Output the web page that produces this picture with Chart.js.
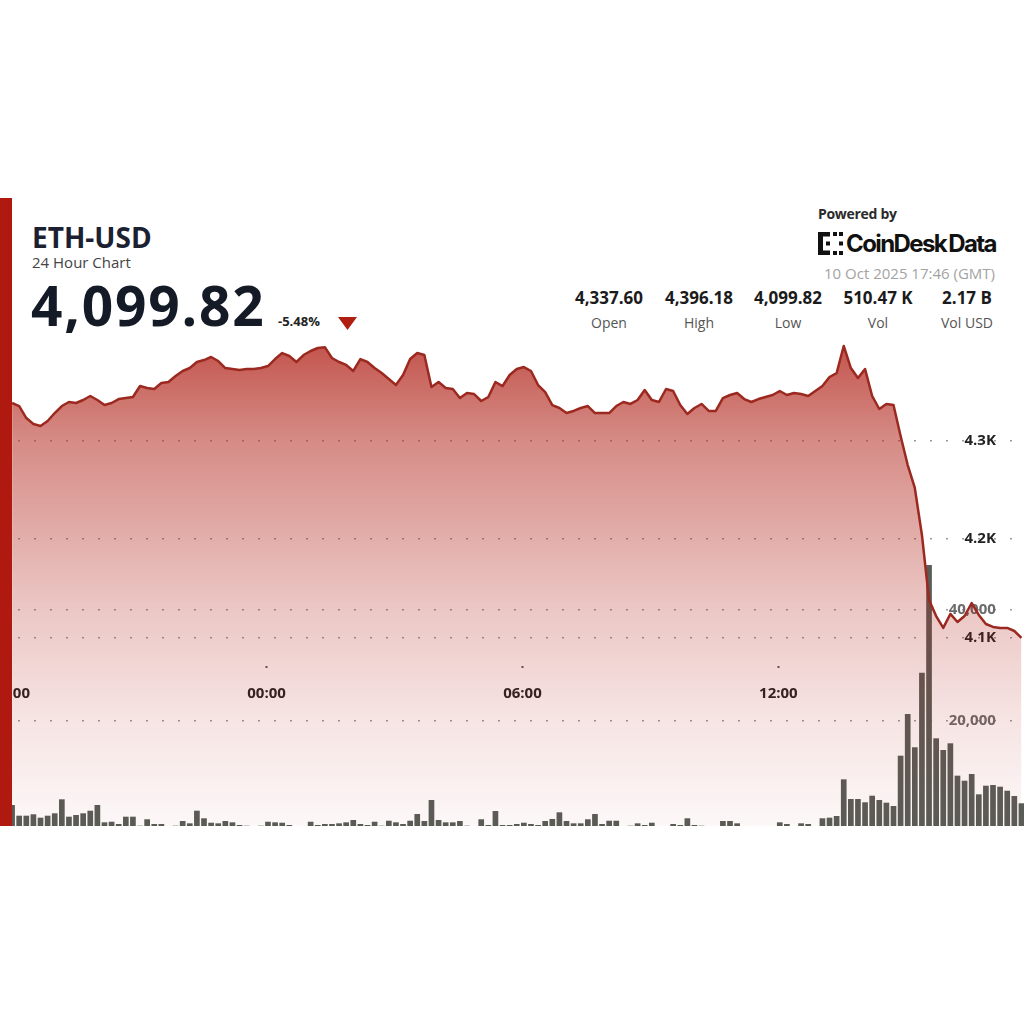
<!DOCTYPE html>
<html>
<head>
<meta charset="utf-8">
<title>ETH-USD 24 Hour Chart</title>
<script src="https://cdn.jsdelivr.net/npm/chart.js@4.4.1/dist/chart.umd.min.js"></script>
<style>
  html, body { margin: 0; padding: 0; background: #fff; }
  body { width: 1024px; height: 1024px; position: relative; overflow: hidden; font-family: 'Open Sans', sans-serif; }
  .abs { position: absolute; white-space: nowrap; line-height: 1; }
  #redbar { left: 0; top: 198px; width: 12px; height: 628px; background: #b0190f; z-index: 5; }
  #title { left: 32px; top: 223px; font-size: 28px; font-weight: 700; color: #1b2130; }
  #sub { left: 32px; top: 255px; font-size: 15px; color: #444; }
  #price { left: 31px; top: 277px; font-size: 55px; font-weight: 700; letter-spacing: 1.8px; color: #141a26; }
  #chg { left: 278px; top: 315px; font-size: 13px; font-weight: 700; color: #222; }
  #tri { left: 338px; top: 317px; }
  #powered { left: 818px; top: 207px; font-size: 14px; font-weight: 700; color: #2a2a2a; letter-spacing: -0.3px; }
  #logo { left: 818px; top: 232px; }
  #brand { left: 846px; top: 232px; font-family: Inter, sans-serif; font-size: 24px; font-weight: 700; letter-spacing: -1.6px; word-spacing: -2px; color: #111; }
  #date { right: 29px; top: 266px; font-size: 15px; color: #a3a3a3; }
  .stat { position: absolute; width: 110px; text-align: center; line-height: 1; white-space: nowrap; }
  .stat .v { font-size: 17px; font-weight: 700; color: #1b1b1b; }
  .stat .l { font-size: 14px; color: #555; margin-top: 10px; }
  #wrap { position: absolute; left: 0; top: 330px; width: 1024px; height: 496px; z-index: 1; }
</style>
</head>
<body>
<div id="redbar" class="abs"></div>
<div id="title" class="abs">ETH-USD</div>
<div id="sub" class="abs">24 Hour Chart</div>
<div id="price" class="abs">4,099.82</div>
<div id="chg" class="abs">-5.48%</div>
<svg id="tri" class="abs" width="19" height="13"><polygon points="0,0 19,0 9.5,13" fill="#b01e12"/></svg>
<div id="powered" class="abs">Powered by</div>
<svg id="logo" class="abs" width="25" height="23">
  <rect x="0" y="0" width="5" height="23" fill="#111"/>
  <rect x="0" y="0" width="12" height="4.5" fill="#111"/>
  <rect x="0" y="18.5" width="12" height="4.5" fill="#111"/>
  <rect x="8" y="9.5" width="4" height="4" fill="#111"/>
  <rect x="15" y="0" width="4" height="4" fill="#111"/>
  <rect x="21" y="0" width="4" height="4" fill="#111"/>
  <rect x="21" y="9.5" width="4" height="4" fill="#111"/>
  <rect x="15" y="19" width="4" height="4" fill="#111"/>
  <rect x="21" y="19" width="4" height="4" fill="#111"/>
</svg>
<div id="brand" class="abs">CoinDesk Data</div>
<div id="date" class="abs">10 Oct 2025 17:46 (GMT)</div>
<div id="stats"></div>
<div id="wrap"><canvas id="chart" width="1024" height="496"></canvas></div>

<script>
  // 10-minute closes, oldest first (first point just after 18:00 the day before)
  const prices = [
    4338.3, 4335.2, 4323.0, 4317.0, 4314.9, 4320.0, 4328.1, 4335.2, 4339.3, 4338.3,
    4341.3, 4345.4, 4341.3, 4336.2, 4338.3, 4342.3, 4343.3, 4344.4, 4355.5, 4353.5,
    4352.5, 4358.6, 4359.6, 4365.7, 4370.8, 4373.8, 4379.9, 4381.9, 4385.0, 4380.9,
    4373.8, 4372.8, 4371.8, 4372.8, 4372.8, 4373.8, 4375.8, 4382.9, 4389.0, 4386.0,
    4379.9, 4387.0, 4391.1, 4394.1, 4395.0, 4384.0, 4379.9, 4376.9, 4370.8, 4382.9,
    4379.9, 4373.8, 4368.7, 4362.6, 4356.5, 4366.7, 4382.9, 4389.0, 4387.0, 4354.5,
    4359.6, 4353.5, 4352.5, 4343.3, 4348.4, 4347.4, 4340.3, 4344.4, 4359.6, 4355.5,
    4366.7, 4372.8, 4374.8, 4370.8, 4356.5, 4349.4, 4336.2, 4333.2, 4328.1, 4330.2,
    4333.2, 4335.2, 4328.1, 4328.1, 4328.1, 4335.2, 4339.3, 4337.3, 4341.3, 4351.5,
    4341.3, 4339.3, 4352.5, 4350.5, 4336.2, 4327.1, 4333.2, 4337.3, 4330.2, 4330.2,
    4343.3, 4346.4, 4348.4, 4342.3, 4339.3, 4342.3, 4344.4, 4346.4, 4350.5, 4346.4,
    4348.4, 4347.4, 4345.4, 4350.5, 4355.5, 4364.7, 4368.7, 4396.2, 4373.8, 4363.7,
    4372.8, 4345.4, 4332.2, 4337.3, 4336.2, 4304.8, 4275.3, 4252.0, 4204.3, 4138.3,
    4122.0, 4109.9, 4124.1, 4115.9, 4122.0, 4135.2, 4123.1, 4113.9, 4110.9, 4109.9,
    4109.9, 4106.8, 4099.82
  ];

  // volume per 10-minute bar (ETH)
  const volumes = [
    4770, 2840, 2840, 3090, 2480, 2840, 3270, 5800, 2660, 2960,
    3270, 3740, 4770, 1640, 1750, 1340, 2660, 2660, 1030, 2190,
    1340, 1340, 700, 1030, 1880, 1460, 3740, 2370, 1570, 1460,
    1880, 1640, 1160, 1030, 700, 1030, 1750, 1640, 1570, 1160,
    500, 700, 1750, 1160, 1340, 1340, 1460, 1640, 2060, 1340,
    1160, 1750, 1030, 1930, 1640, 1340, 1930, 3140, 1880, 5670,
    2060, 1640, 1640, 1880, 1030, 500, 2190, 1160, 3690, 1160,
    1160, 1340, 1570, 1340, 1160, 1880, 2240, 3450, 1880, 1460,
    1460, 2190, 3140, 1340, 1930, 1930, 600, 1030, 1460, 1160,
    1570, 600, 600, 1340, 1160, 2370, 1160, 1030, 600, 700,
    1880, 1880, 1460, 980, 600, 500, 600, 500, 1640, 1340,
    500, 1460, 1340, 600, 2370, 2480, 2780, 9410, 5850, 5850,
    5260, 6450, 5670, 5190, 4590, 13680, 21210, 15200, 28680, 48140,
    16820, 14710, 15920, 10070, 9160, 10370, 6700, 8260, 8380, 8080,
    7350, 6400, 5080
  ];

  // minutes after 18:00 for each bar
  const times = prices.map((_, i) => 2 + 10 * i);

  const xTickValues = [0, 360, 720, 1080];
  const xTickLabels = ['18:00', '00:00', '06:00', '12:00'];
  const priceTicks = [4100, 4200, 4300];
  const priceTickLabels = ['4.1K', '4.2K', '4.3K'];
  const volTicks = [20000, 40000];
  const volTickLabels = ['20,000', '40,000'];

  const statValues = ['4,337.60', '4,396.18', '4,099.82', '510.47 K', '2.17 B'];
  const statLabels = ['Open', 'High', 'Low', 'Vol', 'Vol USD'];
  const statCenters = [609, 699, 788, 878, 967];

  // header stats
  const statsEl = document.getElementById('stats');
  statValues.forEach((v, i) => {
    const d = document.createElement('div');
    d.className = 'stat';
    d.style.left = (statCenters[i] - 55) + 'px';
    d.style.top = '289px';
    d.innerHTML = '<div class="v">' + v + '</div><div class="l">' + statLabels[i] + '</div>';
    statsEl.appendChild(d);
  });

  function fillGradient(context) {
    const chart = context.chart;
    const area = chart.chartArea;
    if (!area) return 'rgba(176,32,22,0.3)';
    const g = chart.ctx.createLinearGradient(0, area.top, 0, area.bottom);
    g.addColorStop(0, 'rgba(176,32,22,0.80)');
    g.addColorStop(0.22, 'rgba(176,32,22,0.52)');
    g.addColorStop(0.55, 'rgba(176,32,22,0.26)');
    g.addColorStop(0.78, 'rgba(176,32,22,0.12)');
    g.addColorStop(1, 'rgba(176,32,22,0.03)');
    return g;
  }

  // axes sit inside the plot, so they must not shrink it
  function noPadding(scale) {
    scale.paddingLeft = 0;
    scale.paddingRight = 0;
    scale.paddingTop = 0;
    scale.paddingBottom = 0;
  }

  const labelFont = { family: 'Open Sans', size: 15, weight: '700' };
  const dottedGrid = { drawTicks: false, color: 'rgba(90,90,90,0.6)', lineWidth: 1.5 };
  const dottedBorder = { display: false, dash: [2, 14], dashOffset: 14 };

  new Chart(document.getElementById('chart'), {
    type: 'line',
    data: {
      datasets: [
        {
          type: 'line',
          label: 'ETH-USD',
          data: prices.map((p, i) => ({ x: times[i], y: p })),
          yAxisID: 'yP',
          borderColor: '#9c2920',
          borderWidth: 2.5,
          borderJoinStyle: 'round',
          pointRadius: 0,
          tension: 0,
          fill: 'start',
          backgroundColor: fillGradient,
          order: 1
        },
        {
          type: 'bar',
          label: 'Volume',
          data: volumes.map((v, i) => ({ x: times[i], y: v })),
          yAxisID: 'yV',
          backgroundColor: '#585d58',
          barPercentage: 0.8,
          categoryPercentage: 1,
          order: 2
        }
      ]
    },
    options: {
      responsive: false,
      animation: false,
      events: [],
      layout: { padding: 0 },
      plugins: { legend: { display: false }, tooltip: { enabled: false } },
      scales: {
        x: {
          type: 'linear',
          min: -15,
          max: 1425.6,
          offset: false,
          position: { yP: 4071 },
          afterBuildTicks: (scale) => { scale.ticks = xTickValues.map(v => ({ value: v })); },
          afterFit: noPadding,
          ticks: {
            autoSkip: false,
            maxRotation: 0,
            padding: 16,
            color: '#222',
            font: labelFont,
            callback: (v) => xTickLabels[xTickValues.indexOf(v)]
          },
          grid: { drawOnChartArea: false, drawTicks: true, tickLength: 2, tickColor: '#555', tickWidth: 2, offset: false },
          border: { display: false }
        },
        yP: {
          type: 'linear',
          min: 3908.8,
          max: 4412.4,
          position: { x: 1386 },
          afterBuildTicks: (scale) => { scale.ticks = priceTicks.map(v => ({ value: v })); },
          afterFit: noPadding,
          ticks: {
            padding: 0,
            color: '#222',
            font: labelFont,
            callback: (v) => priceTickLabels[priceTicks.indexOf(v)]
          },
          grid: dottedGrid,
          border: dottedBorder
        },
        yV: {
          type: 'linear',
          // zero sits a few pixels below the visible bottom edge
          min: 976,
          max: 90600,
          position: { x: 1386 },
          afterBuildTicks: (scale) => { scale.ticks = volTicks.map(v => ({ value: v })); },
          afterFit: noPadding,
          ticks: {
            padding: 0,
            color: '#6b6b6b',
            font: labelFont,
            callback: (v) => volTickLabels[volTicks.indexOf(v)]
          },
          grid: dottedGrid,
          border: dottedBorder
        }
      }
    }
  });
</script>
</body>
</html>
